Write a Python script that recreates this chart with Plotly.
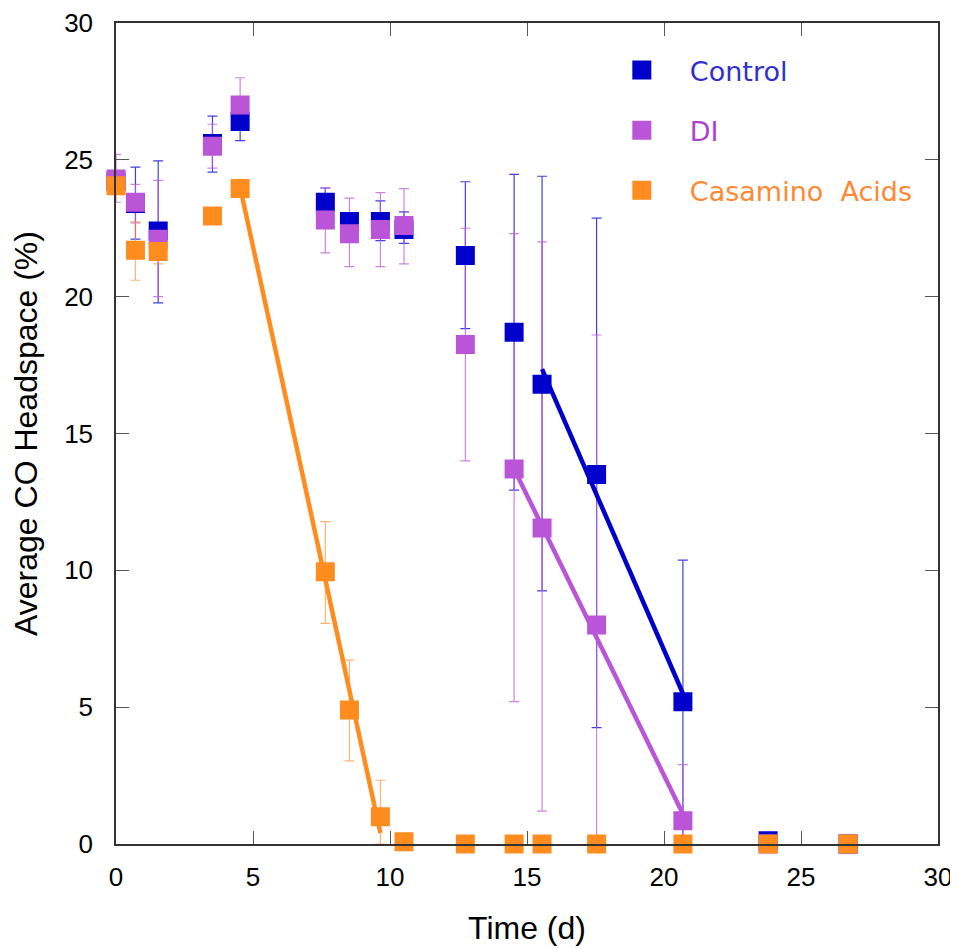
import plotly.graph_objects as go

# ---- data ----
days = [0, 0.71, 1.54, 3.52, 4.53, 7.64, 8.52, 9.65, 10.51, 12.75, 14.53, 15.55, 17.54, 20.69, 23.8, 26.72]

control = [24.2, 23.4, 22.4, 25.6, 26.4, 23.45, 22.75, 22.75, 22.45, 21.5, 18.7, 16.8, 13.5, 5.2, 0.12, 0]
control_err_plus = [0.3, 1.33, 2.56, 1.0, 0.75, 0.52, 0.3, 0.75, 0.65, 2.7, 5.77, 7.6, 9.37, 5.17, 0.3, 0]
control_err_minus = [0.3, 1.3, 2.63, 1.05, 0.7, 0.5, 0.3, 0.7, 0.5, 2.67, 5.77, 7.55, 9.25, 5.2, 0.1, 0]

di = [24.3, 23.45, 22.1, 25.5, 27.0, 22.8, 22.3, 22.45, 22.6, 18.25, 13.7, 11.55, 8.0, 0.85, 0, 0]
di_err_plus = [0.9, 0.65, 2.15, 0.8, 1.0, 1.17, 1.3, 1.35, 1.35, 4.25, 8.6, 10.45, 10.6, 2.05, 0, 0]
di_err_minus = [0.85, 0.75, 2.1, 0.8, 0.8, 1.2, 1.2, 1.35, 1.4, 4.25, 8.5, 10.35, 8.0, 0.85, 0, 0]

casamino = [24.05, 21.7, 21.65, 22.95, 23.95, 9.95, 4.9, 1.0, 0.08, 0, 0, 0, 0, 0, 0, 0]
casamino_err_plus = [0.2, 1.03, 0.45, 0.2, 0.2, 1.83, 1.82, 1.33, 0, 0, 0, 0, 0, 0, 0, 0]
casamino_err_minus = [0.2, 1.1, 0.45, 0.2, 0.2, 1.89, 1.86, 1.0, 0, 0, 0, 0, 0, 0, 0, 0]

# linear trend segments
fit_control_x = [15.55, 20.69]
fit_control_y = [17.35, 5.5]
fit_di_x = [14.53, 20.69]
fit_di_y = [13.7, 1.1]
fit_casamino_x = [4.53, 9.65]
fit_casamino_y = [24.0, 0.4]

series = [
    ("Control", control, control_err_plus, control_err_minus, "#0000CC", "rgba(0,0,215,0.75)", "#3030CC"),
    ("DI", di, di_err_plus, di_err_minus, "#BB55D8", "rgba(190,90,220,0.75)", "#AA44CC"),
    ("Casamino  Acids", casamino, casamino_err_plus, casamino_err_minus, "#FF8C1E", "rgba(255,150,60,0.7)", "#FF8833"),
]
fits = [
    (fit_control_x, fit_control_y, "#0000CC"),
    (fit_di_x, fit_di_y, "#BB55D8"),
    (fit_casamino_x, fit_casamino_y, "#FF8C1E"),
]

fig = go.Figure()

# error bars first (beneath all markers)
for name, vals, ep, em, col, ecol, tcol in series:
    fig.add_trace(go.Scatter(
        x=days, y=vals, mode="markers",
        marker=dict(size=1, opacity=0),
        error_y=dict(type="data", symmetric=False, array=ep, arrayminus=em,
                     color=ecol, thickness=1.2, width=5),
        showlegend=False, hoverinfo="skip", cliponaxis=False,
    ))

# markers
for i, (name, vals, ep, em, col, ecol, tcol) in enumerate(series):
    fig.add_trace(go.Scatter(
        x=days, y=vals, mode="markers",
        name=f'<span style="color:{tcol}">{name}</span>',
        marker=dict(symbol="square", size=14, color=col, line=dict(color=col, width=5)),
        cliponaxis=False, legendgroup=f"g{i}",
    ))

# trend lines
for fx, fy, col in fits:
    fig.add_trace(go.Scatter(
        x=fx, y=fy, mode="lines", line=dict(color=col, width=4.5),
        showlegend=False, hoverinfo="skip",
    ))

axis_common = dict(
    range=[0, 30], dtick=5, showgrid=False, zeroline=False, automargin=False,
    showline=True, linecolor="#333333", linewidth=1.5, mirror="ticks",
    ticks="inside", ticklen=13, tickwidth=1.3, tickcolor="#555555",
    tickfont=dict(family="Liberation Sans, Arial, sans-serif", size=26, color="black"),
)

# the page body adds an 8px offset, so the figure is 8px smaller than the window
fig.update_layout(
    width=950, height=941,
    margin=dict(l=108, r=20, t=15, b=105),
    paper_bgcolor="white", plot_bgcolor="white",
    xaxis=dict(**axis_common, ticklabelstandoff=9,
               title=dict(text="Time (d)", standoff=26,
                          font=dict(family="Liberation Sans, Arial, sans-serif", size=32, color="black"))),
    yaxis=dict(**axis_common, ticklabelstandoff=16,
               title=dict(text="Average CO Headspace (%)", standoff=19,
                          font=dict(family="Liberation Sans, Arial, sans-serif", size=32, color="black"))),
    legend=dict(
        x=0.5813, y=0.972, xanchor="left", yanchor="top",
        font=dict(family="DejaVu Sans, Verdana, sans-serif", size=27),
        itemwidth=86, tracegroupgap=22, bgcolor="rgba(0,0,0,0)",
    ),
    showlegend=True,
)

fig.write_html("out.html")
